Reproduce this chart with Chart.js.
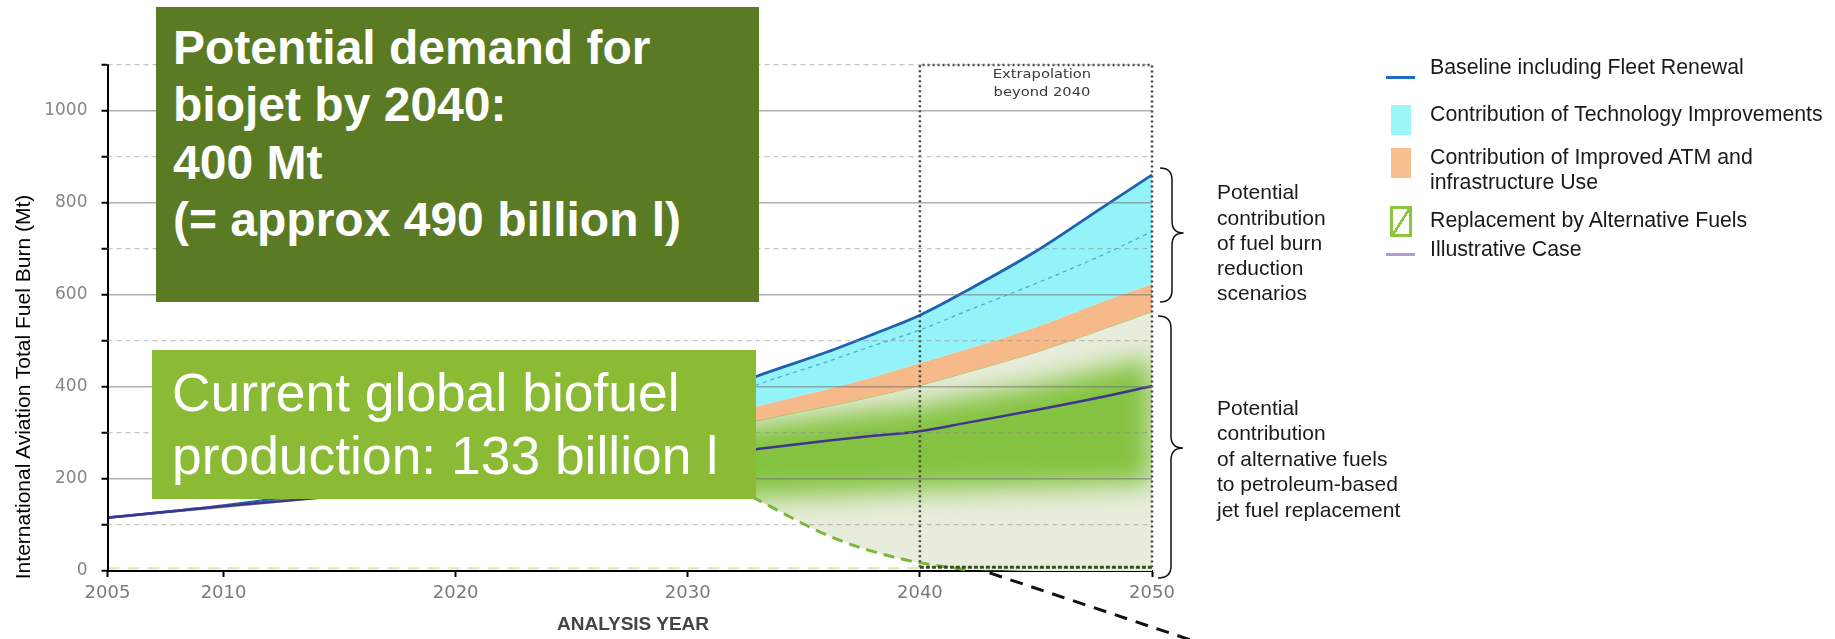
<!DOCTYPE html>
<html>
<head>
<meta charset="utf-8">
<script src="https://cdn.jsdelivr.net/npm/chart.js@4.4.0/dist/chart.umd.min.js"></script>
<style>
  html, body { margin: 0; padding: 0; background: #fff; }
  #wrap { position: relative; width: 1835px; height: 639px; overflow: hidden; font-family: "Liberation Sans", Arial, sans-serif; }
  #chart { position: absolute; left: 0; top: 0; }
  .abs { position: absolute; white-space: nowrap; }
  .box { position: absolute; box-sizing: border-box; color: #fff; white-space: nowrap; }
  .leg { position: absolute; white-space: nowrap; font-size: 21.3px; line-height: 25px; color: #1a1a1a; }
  .note { position: absolute; white-space: nowrap; font-size: 21px; color: #1a1a1a; }
  svg { position: absolute; left: 0; top: 0; pointer-events: none; }
</style>
</head>
<body>
<div id="wrap">
  <canvas id="chart" width="1835" height="639"></canvas>

  <div class="abs" style="left:962px; top:64.6px; width:160px; text-align:center; font-family:'DejaVu Sans'; font-size:13px; line-height:18.4px; color:#3a3a3a; transform:scaleX(1.13);">Extrapolation<br>beyond 2040</div>

  <div class="box" style="left:156px; top:7px; width:603px; height:295px; padding:12px 0 0 17px; background:#5a7a23; font-weight:bold; font-size:48px; line-height:57.3px;">Potential demand for<br>biojet by 2040:<br>400 Mt<br>(= approx 490 billion l)</div>

  <div class="box" style="left:152px; top:350px; width:604px; height:149px; padding:11px 0 0 20px; background:#8bbb34; font-size:53.4px; line-height:63.3px;">Current global biofuel<br>production: 133 billion l</div>

  <div class="abs" style="left:-187.5px; top:375px; width:420px; height:24px; line-height:24px; text-align:center; font-size:21px; color:#000; transform:rotate(-90deg);">International Aviation Total Fuel Burn (Mt)</div>

  <div class="abs" style="left:483px; top:612px; width:300px; line-height:24px; text-align:center; font-size:19px; font-weight:bold; color:#444;">ANALYSIS YEAR</div>

  <!-- legend -->
  <div class="abs" style="left:1386px; top:75.5px; width:29px; height:3px; background:#1f6fc5;"></div>
  <div class="abs" style="left:1391px; top:105px; width:20px; height:30px; background:#9cf7fb;"></div>
  <div class="abs" style="left:1391px; top:148px; width:20px; height:30px; background:#f8bf91;"></div>
  <div class="abs" style="left:1390px; top:206px; width:22px; height:31px; box-sizing:border-box; border:3px solid #8cc63f; background:linear-gradient(to bottom right, transparent 46%, #8cc63f 46%, #8cc63f 56%, transparent 56%);"></div>
  <div class="abs" style="left:1386px; top:253px; width:29px; height:3px; background:#b39ad6;"></div>

  <div class="leg" style="left:1430px; top:55.2px;">Baseline including Fleet Renewal</div>
  <div class="leg" style="left:1430px; top:101.9px;">Contribution of Technology Improvements</div>
  <div class="leg" style="left:1430px; top:145.2px;">Contribution of Improved ATM and<br>infrastructure Use</div>
  <div class="leg" style="left:1430px; top:208.2px;">Replacement by Alternative Fuels</div>
  <div class="leg" style="left:1430px; top:236.9px;">Illustrative Case</div>

  <!-- brace notes -->
  <div class="note" style="left:1217px; top:179.4px; line-height:25.2px;">Potential<br>contribution<br>of fuel burn<br>reduction<br>scenarios</div>
  <div class="note" style="left:1217px; top:395px; line-height:25.4px;">Potential<br>contribution<br>of alternative fuels<br>to petroleum-based<br>jet fuel replacement</div>

  <svg width="1835" height="639">
    <path d="M1160,168 Q1172,168 1172,180 L1172,221 Q1172,233 1183.5,233 Q1172,233 1172,245 L1172,290 Q1172,302 1160,302" fill="none" stroke="#111" stroke-width="1.5"/>
    <path d="M1158,316 Q1171,316 1171,328 L1171,436 Q1171,448 1183,448 Q1171,448 1171,460 L1171,566 Q1171,578 1158,578" fill="none" stroke="#111" stroke-width="1.5"/>
  </svg>
</div>

<script>
// years shared by the curves
const years = [2005, 2010, 2015, 2020, 2025, 2030, 2033, 2036, 2038, 2040, 2042, 2045, 2048, 2050];

// fuel burn (Mt)
const baseline     = [116, 142, 178, 225, 285, 365, 424, 476, 515, 556, 609, 695, 795, 861];
const techCase     = [116, 141, 172, 212, 265, 345, 405, 455, 490, 524, 565, 625, 690, 738];
const atmTop       = [116, 140, 170, 207, 252, 318, 358, 395, 422, 452, 482, 530, 588, 624];
const altTop       = [116, 138, 164, 196, 236, 292, 327, 358, 380, 404, 432, 476, 528, 564];
const altBottom    = [116, 138, 164, 196, 236, 232, 155, 78, 42, 18, 3, 0, 0, 0];
const illustrative = [116, 141, 163, 187, 215, 246, 265, 283, 294, 304, 322, 350, 380, 402];

// soft green band inside the alternative fuels area
const bandTop    = [116, 136, 160, 190, 228, 285, 318, 338, 350, 360, 378, 405, 440, 462];
const bandBottom = [95, 100, 105, 115, 130, 150, 160, 165, 170, 175, 178, 182, 187, 190];

// visible dashed part of the alternative fuels curve
const altLineStart = 2030;
const altLineEnd = 2042;

// extrapolation frame
const boxYears = [2040, 2040, 2050, 2050];
const boxValues = [8, 1100, 1100, 8];
const boxBottomYears = [2040, 2050];
const boxBottomValues = [8, 8];

// black dashed pointer leaving the chart
const calloutYears = [2043, 2052.5];
const calloutValues = [-4, -164];

// faint dashes along zero
const zeroYears = [2005, 2040];
const zeroValues = [6, 6];

// axis ticks
const xTicks = [2005, 2010, 2020, 2030, 2040, 2050];
const yMax = 1100;
const yStep = 100;
const yLabelEvery = 200;

function pts(xs, ys) {
    return xs.map((x, i) => ({ x: x, y: ys[i] }));
}

const altLine = pts(years, altBottom).filter(p => p.x >= altLineStart && p.x <= altLineEnd);

// green band is drawn blurred, clipped to the alternative fuels area
const bandPlugin = {
    id: 'softBand',
    afterDatasetDraw(chart, args) {
        if (args.index !== 3) return;
        const upper = chart.getDatasetMeta(3).data;
        const lower = chart.getDatasetMeta(4).data;
        const top = chart.getDatasetMeta(7).data;
        const bot = chart.getDatasetMeta(8).data;
        const ctx = chart.ctx;
        ctx.save();
        ctx.beginPath();
        upper.forEach((p, i) => i ? ctx.lineTo(p.x, p.y) : ctx.moveTo(p.x, p.y));
        for (let i = lower.length - 1; i >= 0; i--) ctx.lineTo(lower[i].x, lower[i].y);
        ctx.closePath();
        ctx.clip();
        ctx.filter = 'blur(13px)';
        ctx.beginPath();
        top.forEach((p, i) => i ? ctx.lineTo(p.x, p.y) : ctx.moveTo(p.x, p.y));
        for (let i = bot.length - 1; i >= 0; i--) ctx.lineTo(bot[i].x, bot[i].y);
        ctx.closePath();
        ctx.fillStyle = '#84c341';
        ctx.fill();
        ctx.restore();
    }
};

Chart.defaults.font.family = 'DejaVu Sans';

const hidden = 'rgba(0,0,0,0)';

const ctx = document.getElementById('chart').getContext('2d');
new Chart(ctx, {
    type: 'line',
    data: {
        datasets: [
            { label: 'Baseline including Fleet Renewal', data: pts(years, baseline), borderColor: '#1d62b2', borderWidth: 2.8,
              fill: 2, backgroundColor: '#93f3f8', cubicInterpolationMode: 'monotone', order: 6 },
            { label: 'Technology case', data: pts(years, techCase), borderColor: '#4aa8d4', borderWidth: 1.2, borderDash: [4, 4],
              fill: false, cubicInterpolationMode: 'monotone', order: 5 },
            { label: 'ATM top', data: pts(years, atmTop), borderColor: hidden, borderWidth: 0,
              fill: 3, backgroundColor: '#f6b98a', cubicInterpolationMode: 'monotone', order: 7 },
            { label: 'Alternative fuels top', data: pts(years, altTop), borderColor: '#b2c978', borderWidth: 1.5,
              fill: 4, backgroundColor: '#e8eddb', cubicInterpolationMode: 'monotone', order: 8 },
            { label: 'Alternative fuels bottom', data: pts(years, altBottom), borderColor: hidden, borderWidth: 0,
              fill: false, cubicInterpolationMode: 'monotone', order: 9 },
            { label: 'Replacement by Alternative Fuels', data: altLine, borderColor: '#79b83c', borderWidth: 3, borderDash: [11, 7],
              fill: false, cubicInterpolationMode: 'monotone', order: 4 },
            { label: 'Illustrative Case', data: pts(years, illustrative), borderColor: '#3f3590', borderWidth: 2.5,
              fill: false, cubicInterpolationMode: 'monotone', order: 3 },
            { label: 'band top', data: pts(years, bandTop), borderColor: hidden, borderWidth: 0, fill: false, order: 9 },
            { label: 'band bottom', data: pts(years, bandBottom), borderColor: hidden, borderWidth: 0, fill: false, order: 9 },
            { label: 'Extrapolation frame', data: pts(boxYears, boxValues), borderColor: '#444', borderWidth: 2.5, borderDash: [2, 3],
              fill: false, clip: false, order: 2 },
            { label: 'Frame bottom', data: pts(boxBottomYears, boxBottomValues), borderColor: '#36521a', borderWidth: 3, borderDash: [4, 2],
              fill: false, clip: false, order: 2 },
            { label: 'Pointer', data: pts(calloutYears, calloutValues), borderColor: '#111', borderWidth: 3, borderDash: [13, 9],
              fill: false, clip: false, order: 1 },
            { label: 'Zero dashes', data: pts(zeroYears, zeroValues), borderColor: 'rgba(200,222,150,0.7)', borderWidth: 2, borderDash: [12, 8],
              fill: false, order: 9 }
        ]
    },
    options: {
        responsive: false,
        animation: false,
        devicePixelRatio: 1,
        layout: { padding: { left: 0, right: 683, top: 65, bottom: 0 } },
        elements: { point: { radius: 0 } },
        plugins: {
            legend: { display: false },
            tooltip: { enabled: false },
            filler: { propagate: false }
        },
        scales: {
            x: {
                type: 'linear',
                min: 2005,
                max: 2050,
                afterBuildTicks: (scale) => { scale.ticks = xTicks.map(v => ({ value: v })); },
                afterFit: (scale) => { scale.height = 68; },
                ticks: {
                    autoSkip: false,
                    maxRotation: 0,
                    padding: 6,
                    color: '#7a7a7a',
                    font: { size: 18 },
                    callback: (v) => String(v)
                },
                grid: { drawOnChartArea: false, tickLength: 6, tickWidth: 2, tickColor: '#000' },
                border: { color: '#000', width: 2 }
            },
            y: {
                type: 'linear',
                position: 'left',
                min: 0,
                max: yMax,
                afterFit: (scale) => { scale.width = 107.5; },
                ticks: {
                    stepSize: yStep,
                    autoSkip: false,
                    padding: 14,
                    color: '#858585',
                    font: { size: 17 },
                    callback: (v) => (v % yLabelEvery === 0 ? String(v) : '')
                },
                grid: {
                    z: 1,
                    lineWidth: 1.5,
                    color: (c) => (c.tick && c.tick.value > 0 && c.tick.value % yLabelEvery === 0 ? 'rgba(110,110,110,0.55)' : hidden),
                    tickLength: 6,
                    tickWidth: 2,
                    tickColor: '#000'
                },
                border: { color: '#000', width: 2, z: 1 }
            },
            y2: {
                type: 'linear',
                position: 'right',
                min: 0,
                max: yMax,
                afterFit: (scale) => { scale.width = 0; },
                ticks: { stepSize: yStep, display: false },
                grid: {
                    z: 1,
                    drawTicks: false,
                    lineWidth: 1.2,
                    color: (c) => (c.tick && c.tick.value % yLabelEvery !== 0 ? 'rgba(140,140,140,0.5)' : hidden)
                },
                border: { display: false, dash: [5, 4] }
            }
        }
    },
    plugins: [bandPlugin]
});
</script>
</body>
</html>
